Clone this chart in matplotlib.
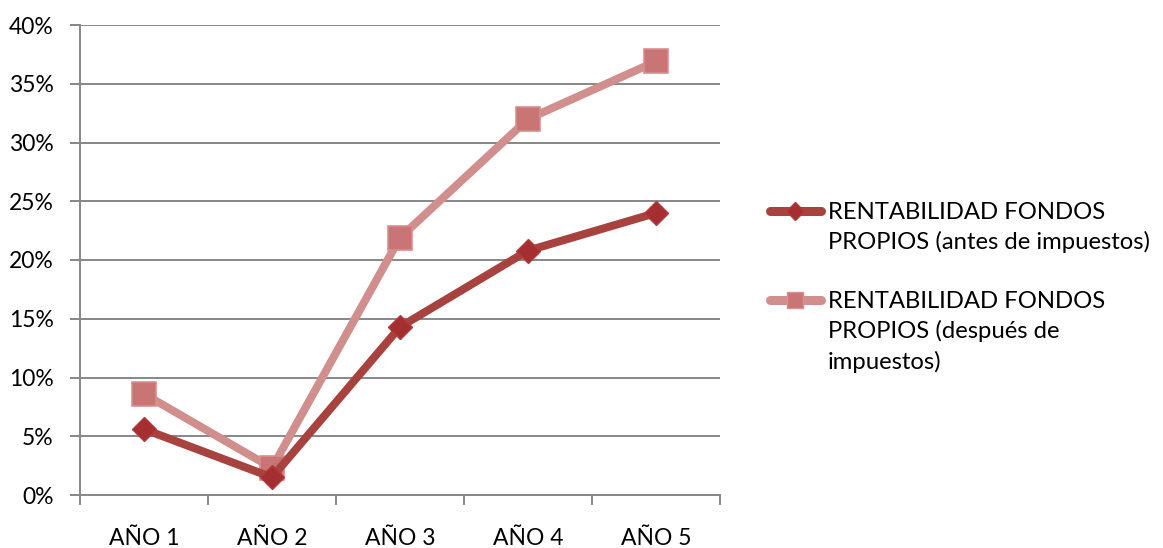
import matplotlib
matplotlib.use("Agg")
import matplotlib.pyplot as plt
from matplotlib.lines import Line2D
from matplotlib.ticker import FuncFormatter, FixedLocator

plt.rcParams['font.family'] = ['Lato', 'DejaVu Sans']

categories = ["AÑO 1", "AÑO 2", "AÑO 3", "AÑO 4", "AÑO 5"]
antes = [5.6, 1.5, 14.3, 20.8, 24.0]
despues = [8.6, 2.3, 21.9, 32.0, 36.9]
labels = ["RENTABILIDAD FONDOS\nPROPIOS (antes de impuestos)",
          "RENTABILIDAD FONDOS\nPROPIOS (después de\nimpuestos)"]

W, H = 1163, 548
fig = plt.figure(figsize=(W / 100, H / 100), dpi=100)
ax = fig.add_axes([80 / W, 1 - 495 / H, 640 / W, 470 / H])

x = list(range(len(categories)))
grid_c = "#878787"
fs = 16.5
fs_leg = 17.2

ax.set_ylim(0, 40)
ax.set_xlim(-0.5, len(categories) - 0.5)
ax.set_yticks(range(0, 41, 5))
ax.yaxis.set_major_formatter(FuncFormatter(lambda v, p: f"{int(v)}%"))
ax.yaxis.grid(True, color=grid_c, linewidth=1.4)
ax.set_axisbelow(True)

ax.set_xticks(x)
ax.set_xticklabels(categories)
ax.xaxis.set_minor_locator(FixedLocator([i - 0.5 for i in range(len(categories) + 1)]))
ax.tick_params(axis='x', which='major', length=0, pad=24, labelsize=fs)
ax.tick_params(axis='x', which='minor', length=7, width=1.4, color=grid_c)
ax.tick_params(axis='y', length=7, width=1.4, color=grid_c, labelsize=fs, pad=12)

for s in ["top", "right"]:
    ax.spines[s].set_visible(False)
for s in ["left", "bottom"]:
    ax.spines[s].set_color(grid_c)
    ax.spines[s].set_linewidth(1.4)

style1 = dict(color="#A8423F", marker="D", markerfacecolor="#A52F30",
              markeredgecolor="#B13B3B", solid_capstyle="round")
style2 = dict(color="#D08E8D", marker="s", markerfacecolor="#C97575",
              markeredgecolor="#DA8E8E", solid_capstyle="round")

ax.plot(x, antes, linewidth=5.8, markersize=12, markeredgewidth=1, zorder=3, **style1)
ax.plot(x, despues, linewidth=5.8, markersize=17, markeredgewidth=1.2, zorder=2, **style2)

# legend drawn in figure pixels: handle line, marker, wrapped text
def legend_entry(ypix, style, msize, text):
    yf = 1 - ypix / H
    fig.add_artist(Line2D([770 / W, 821 / W], [yf, yf], transform=fig.transFigure,
                          linewidth=6.5, color=style["color"], solid_capstyle="round"))
    fig.add_artist(Line2D([795 / W], [yf], transform=fig.transFigure, linestyle="none",
                          marker=style["marker"], markersize=msize,
                          markerfacecolor=style["markerfacecolor"],
                          markeredgecolor=style["markeredgecolor"]))
    fig.text(828 / W, 1 - (ypix - 9) / H, text, fontsize=fs_leg, va="top", ha="left",
             linespacing=1.46)

legend_entry(211, style1, 9, labels[0])
legend_entry(300, style2, 12, labels[1])

fig.savefig("out.png", dpi=100)
